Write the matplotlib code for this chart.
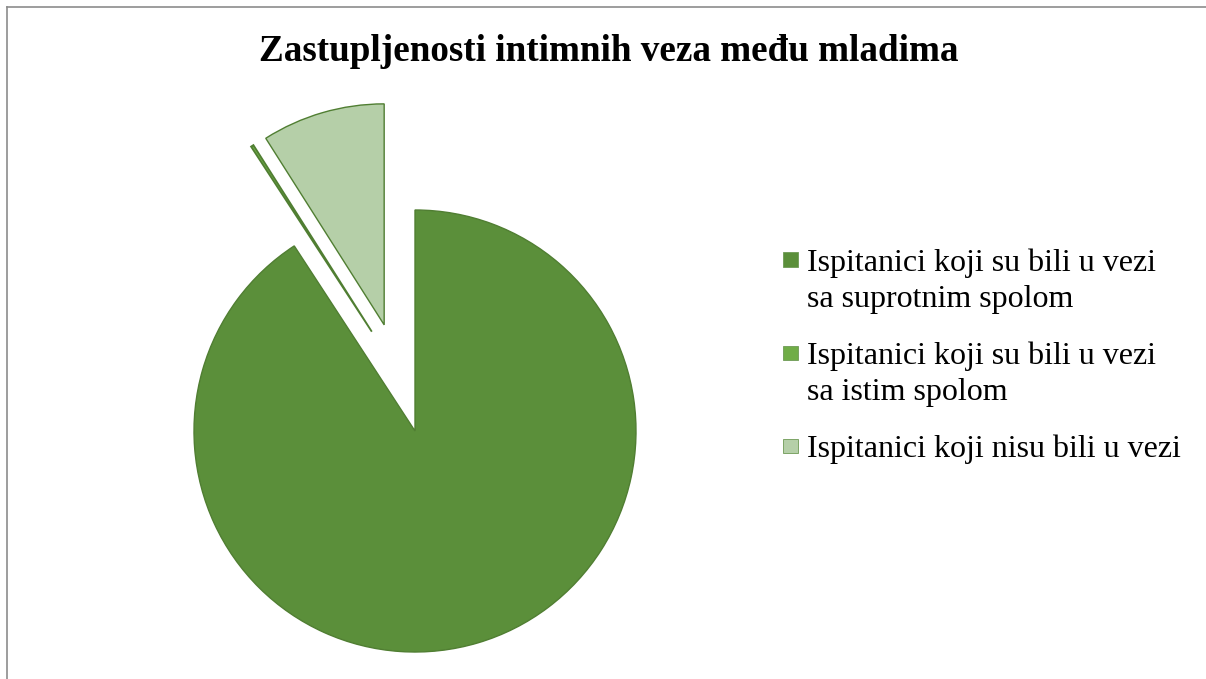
import numpy as np
import matplotlib.pyplot as plt
from matplotlib.patches import Rectangle
from matplotlib.lines import Line2D

title = "Zastupljenosti intimnih veza među mladima"
labels = ["Ispitanici koji su bili u vezi\nsa suprotnim spolom",
          "Ispitanici koji su bili u vezi\nsa istim spolom",
          "Ispitanici koji nisu bili u vezi"]
values = [90.8, 0.2, 9.0]
colors = ["#5B8F3A", "#70AD47", "#B5CFA8"]
explode = [0.0, 0.0, 0.5]

plt.rcParams['font.family'] = ['Liberation Serif', 'DejaVu Serif']

W, H = 1206, 679
fig = plt.figure(figsize=(W / 100, H / 100), dpi=100)

# pie centre (415, 431) px from top-left, radius ~221 px
r = 221
cx, cy = 415, H - 431
x0, x1 = -1.1, 1.2
y0, y1 = -1.1, 1.6
ax = fig.add_axes([(cx + x0 * r) / W, (cy + y0 * r) / H,
                   (x1 - x0) * r / W, (y1 - y0) * r / H])
wedges, _ = ax.pie(values, colors=colors, explode=explode, startangle=90, counterclock=False,
                   wedgeprops=dict(edgecolor="#507E32", linewidth=1.0))
# Excel pushes the near-empty slice out slightly off its bisector
dist, ang = 0.49, np.deg2rad(23.5)
wedges[1].set_center((-dist * np.sin(ang), dist * np.cos(ang)))
wedges[1].set_linewidth(1.3)
ax.set_xlim(x0, x1)
ax.set_ylim(y0, y1)
ax.set_aspect('auto')
ax.axis('off')

fig.text(608.5 / W, 1 - 61 / H, title, ha='center', va='baseline',
         fontsize=26.7, fontweight='bold')

# legend, drawn by hand so the marker sits on the first text line
for i, (lab, c) in enumerate(zip(labels, colors)):
    base = 271 + 93 * i
    fig.add_artist(Rectangle((783 / W, 1 - (base - 4) / H), 14.5 / W, 14.5 / H,
                             transform=fig.transFigure, facecolor=c,
                             edgecolor="#6E9A55", linewidth=0.6))
    for j, line in enumerate(lab.split("\n")):
        fig.text(807 / W, 1 - (base + 36 * j) / H, line, ha='left', va='baseline',
                 fontsize=23)

# chart border (only top and left edges visible)
fig.add_artist(Line2D([6.5 / W, 1.0], [1 - 7 / H, 1 - 7 / H], transform=fig.transFigure,
                      color="#8C8C8C", linewidth=1.2))
fig.add_artist(Line2D([6.5 / W, 6.5 / W], [0, 1 - 7 / H], transform=fig.transFigure,
                      color="#8C8C8C", linewidth=1.2))

fig.savefig("out.png", dpi=100)
